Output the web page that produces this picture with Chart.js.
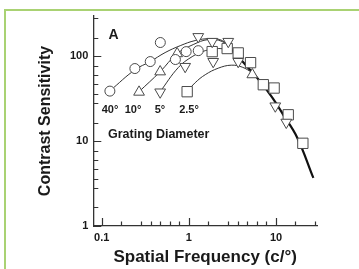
<!DOCTYPE html>
<html>
<head>
<meta charset="utf-8">
<script src="https://cdn.jsdelivr.net/npm/chart.js@4.4.1/dist/chart.umd.min.js"></script>
<style>
html, body { margin: 0; padding: 0; background: #fff; }
#wrap { width: 359px; height: 269px; }
</style>
</head>
<body>
<div id="wrap"><canvas id="csfChart" width="359" height="269"></canvas></div>
<script>
// measured points: spatial frequency (c/deg) and contrast sensitivity
var freq40 = [0.124, 0.24, 0.36, 0.47, 0.70, 0.93, 1.28];
var sens40 = [39, 72, 87, 146, 92, 114, 117];
var freq10 = [0.268, 0.468, 0.733, 5.34];
var sens10 = [38, 66, 108, 61];
var freq5 = [0.468, 0.906, 1.28, 1.85, 2.83, 1.90, 3.68, 9.8, 13.1];
var sens5 = [38, 76, 171, 150, 150, 87, 87, 26, 16.7];
var freq25 = [0.955, 1.85, 2.75, 3.68, 5.1, 7.14, 9.5, 13.8, 20.3];
var sens25 = [38.4, 114, 124, 110, 84.5, 46.4, 42.4, 20.5, 9.45];

// fitted curves
var fit40F = [0.1245, 0.241, 0.359, 0.533, 0.795, 1.18, 1.75, 2.41, 3.14];
var fit40S = [39.4, 69.8, 86.8, 111, 134, 154, 162, 154, 120];
var fit10F = [0.268, 0.468, 0.733, 1.12, 1.66, 2.41, 3.14];
var fit10S = [38.4, 66.1, 108, 138, 158, 150, 120];
var fit5F = [0.468, 0.754, 1.09, 1.54, 2.17, 2.83, 3.14];
var fit5S = [38.4, 73.8, 99.5, 117, 124, 120, 120];
var fit25F = [0.955, 1.18, 1.54, 2.17, 3.06, 4.09, 5.34];
var fit25S = [38.4, 49.0, 60.9, 72.7, 78.9, 74.8, 64.4];
var fitHighF = [3.14, 4.67, 6.59, 9.06, 12.1, 17.5, 26.8];
var fitHighS = [120, 75.7, 50.4, 32.6, 20.5, 11.0, 3.69];

// axes
var xDecades = [0.1, 1, 10];
var yDecades = [1, 10, 100];
var minorSteps = [1.66, 2.82, 3.63, 4.68, 6.03, 7.76];
var diameterLabels = ['40°', '10°', '5°', '2.5°'];

var FONT = '"Liberation Sans", Arial, Helvetica, sans-serif';
var INK = '#1a1a1a';

function toPoints(xs, ys) {
    return xs.map(function (x, i) { return { x: x, y: ys[i] }; });
}

function buildTicks(decades, min, max) {
    var out = [];
    decades.forEach(function (d) {
        out.push({ value: d, major: true });
        minorSteps.forEach(function (m) {
            out.push({ value: d * m, major: false });
        });
    });
    return out.filter(function (t) { return t.value >= min && t.value <= max; });
}

function markerSet(label, xs, ys, style, radius, rotation) {
    return {
        label: label,
        data: toPoints(xs, ys),
        showLine: false,
        pointStyle: style,
        pointRadius: radius,
        pointRotation: rotation || 0,
        pointBackgroundColor: '#fff',
        pointBorderColor: '#4a4a4a',
        pointBorderWidth: 1,
        order: 0
    };
}

function curveSet(xs, ys, width, color) {
    return {
        data: toPoints(xs, ys),
        showLine: true,
        borderColor: color,
        borderWidth: width,
        pointRadius: 0,
        tension: 0.4,
        fill: false,
        order: 1
    };
}

// green frame of the figure panel
var framePlugin = {
    id: 'frame',
    beforeDraw: function (chart) {
        var c = chart.ctx;
        c.save();
        c.fillStyle = '#fff';
        c.fillRect(0, 0, chart.width, chart.height);
        c.strokeStyle = '#a9d273';
        c.lineWidth = 2;
        c.beginPath();
        c.moveTo(5, chart.height);
        c.lineTo(5, 10);
        c.lineTo(chart.width, 10);
        c.stroke();
        c.restore();
    }
};

// tick marks point into the plot
var tickPlugin = {
    id: 'inwardTicks',
    afterDraw: function (chart) {
        var c = chart.ctx;
        var xs = chart.scales.x, ys = chart.scales.y;
        var area = chart.chartArea;
        c.save();
        c.strokeStyle = '#333';
        c.lineWidth = 1.2;
        c.beginPath();
        xs.ticks.forEach(function (t) {
            var px = Math.round(xs.getPixelForValue(t.value)) + 0.5;
            var len = t.major ? 8 : 4.5;
            c.moveTo(px, area.bottom);
            c.lineTo(px, area.bottom - len);
        });
        ys.ticks.forEach(function (t) {
            var py = Math.round(ys.getPixelForValue(t.value)) + 0.5;
            var len = t.major ? 8 : 5;
            c.moveTo(area.left, py);
            c.lineTo(area.left + len, py);
        });
        c.stroke();
        c.restore();
    }
};

// panel letter and legend text
var notePlugin = {
    id: 'notes',
    afterDraw: function (chart) {
        var c = chart.ctx;
        c.save();
        c.fillStyle = INK;
        c.textBaseline = 'alphabetic';
        c.textAlign = 'center';
        c.font = 'bold 14px ' + FONT;
        c.fillText('A', 113.5, 38.5);
        c.font = 'bold 11px ' + FONT;
        var labelX = [110, 133, 160, 189];
        diameterLabels.forEach(function (t, i) {
            c.fillText(t, labelX[i], 112.5);
        });
        c.textAlign = 'left';
        c.font = 'bold 12.5px ' + FONT;
        c.fillText('Grating Diameter', 108, 138);
        c.restore();
    }
};

var ctx = document.getElementById('csfChart').getContext('2d');

var csfChart = new Chart(ctx, {
    type: 'scatter',
    data: {
        datasets: [
            markerSet('40°', freq40, sens40, 'circle', 5),
            markerSet('10°', freq10, sens10, 'triangle', 6.2),
            markerSet('5°', freq5, sens5, 'triangle', 6.2, 180),
            markerSet('2.5°', freq25, sens25, 'rect', 7.3),
            curveSet(fit40F, fit40S, 1, '#333'),
            curveSet(fit10F, fit10S, 1, '#333'),
            curveSet(fit5F, fit5S, 1, '#333'),
            curveSet(fit25F, fit25S, 1, '#333'),
            curveSet(fitHighF, fitHighS, 2.2, '#111')
        ]
    },
    options: {
        responsive: false,
        animation: false,
        events: [],
        layout: { padding: { left: 0, right: 42, top: 16, bottom: 0 } },
        plugins: {
            legend: { display: false },
            tooltip: { enabled: false }
        },
        scales: {
            x: {
                type: 'logarithmic',
                min: 0.08,
                max: 29.5,
                afterBuildTicks: function (s) { s.ticks = buildTicks(xDecades, s.min, s.max); },
                afterFit: function (s) { s.height = 43; },
                grid: { display: false, drawTicks: false },
                border: { display: true, color: '#333', width: 1.3 },
                ticks: {
                    autoSkip: false,
                    maxRotation: 0,
                    padding: 5,
                    color: INK,
                    font: { family: FONT, size: 11, weight: 'bold' },
                    callback: function (v) { return xDecades.indexOf(v) >= 0 ? String(v) : ''; }
                },
                title: {
                    display: true,
                    text: 'Spatial Frequency (c/°)',
                    color: INK,
                    font: { family: FONT, size: 17, weight: 'bold' },
                    padding: { top: 0, bottom: 1 }
                }
            },
            y: {
                type: 'logarithmic',
                min: 1,
                max: 300,
                afterBuildTicks: function (s) { s.ticks = buildTicks(yDecades, s.min, s.max); },
                afterFit: function (s) { s.width = 93.3; },
                grid: { display: false, drawTicks: false },
                border: { display: true, color: '#333', width: 1.3 },
                ticks: {
                    autoSkip: false,
                    padding: 5,
                    color: INK,
                    font: { family: FONT, size: 11, weight: 'bold' },
                    callback: function (v) { return yDecades.indexOf(v) >= 0 ? String(v) : ''; }
                },
                title: {
                    display: true,
                    text: 'Contrast Sensitivity',
                    color: INK,
                    font: { family: FONT, size: 16, weight: 'bold' },
                    padding: { top: 36, bottom: 0 }
                }
            }
        }
    },
    plugins: [framePlugin, tickPlugin, notePlugin]
});
</script>
</body>
</html>
